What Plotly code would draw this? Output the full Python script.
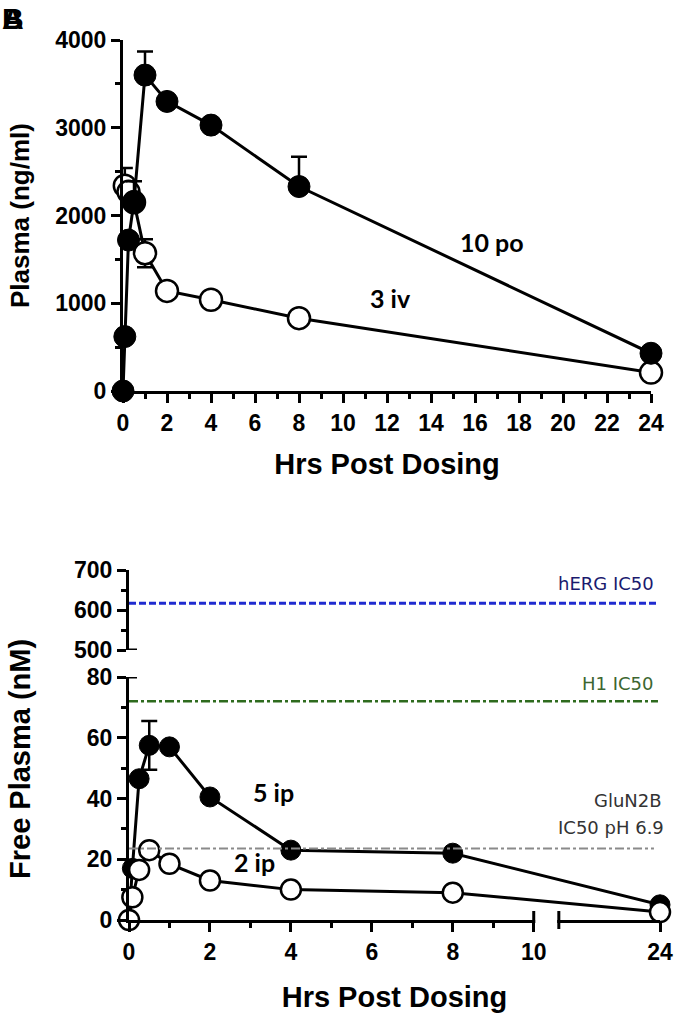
import plotly.graph_objects as go

W, H = 685, 1016

# ---------------- data ----------------
# Top panel: Plasma (ng/ml)
po_t = [0, 0.083, 0.25, 0.5, 1, 2, 4, 8, 24]
po_val = [0, 620, 1720, 2160, 3600, 3300, 3030, 2330, 430]
po_err_up = [0, 0, 0, 230, 270, 0, 0, 340, 0]

iv_t = [0.083, 0.25, 0.5, 1, 2, 4, 8, 24]
iv_val = [2340, 2270, 2150, 1570, 1140, 1040, 830, 210]
iv_err_up = [200, 0, 0, 160, 0, 0, 0, 0]
iv_err_dn = [0, 0, 0, 160, 0, 0, 0, 0]

top_xticks = list(range(0, 25, 2))
top_yticks = [0, 1000, 2000, 3000, 4000]

# Bottom panel: Free Plasma (nM)
ip5_t = [0, 0.083, 0.25, 0.5, 1, 2, 4, 8, 24]
ip5_val = [0, 17, 46.5, 57.5, 57, 40.5, 23, 22, 5]
ip5_err_up = [0, 0, 0, 8, 0, 0, 0, 0, 0]
ip5_err_dn = [0, 0, 0, 8, 0, 0, 0, 0, 0]

ip2_t = [0, 0.083, 0.25, 0.5, 1, 2, 4, 8, 24]
ip2_val = [0, 7.5, 16.5, 23, 18.5, 13, 10, 9, 2.6]

bot_xticks = [0, 2, 4, 6, 8, 10, 24]
bot_minor = [1, 3, 5, 7, 9]
low_yticks = [0, 20, 40, 60, 80]
up_yticks = [500, 600, 700]

herg_ic50 = 617
h1_ic50 = 72
glun2b_ic50 = 23.5

# broken x-axis for bottom panel: 0-10 linear, then a gap, then a short segment ending at 24
SEG_START = 21.5
GAP = 0.62


def brk(t):
    return t if t <= 10 else 10 + GAP + (t - SEG_START)


def px(x):
    return x / W


def py(y):
    return 1 - y / H


BLACK = "black"
LW = 3
MS_TOP = 22
MS_BOT = 20
tickfont = dict(family="Liberation Sans", size=23, color=BLACK, weight="bold")
titlefont = dict(family="Liberation Sans", size=29, color=BLACK, weight="bold")
ytitlefont_top = dict(family="Liberation Sans", size=26, color=BLACK, weight="bold")
labfont = dict(family="Lato", size=25, color=BLACK, weight="bold")

fig = go.Figure()

# ---- top panel traces (open first, filled on top)
fig.add_trace(go.Scatter(
    x=iv_t, y=iv_val, mode="lines+markers", xaxis="x", yaxis="y",
    line=dict(color=BLACK, width=LW),
    marker=dict(size=MS_TOP, color="white", line=dict(color=BLACK, width=2.5)),
    error_y=dict(type="data", array=iv_err_up, arrayminus=iv_err_dn, symmetric=False,
                 color=BLACK, thickness=2.5, width=8),
    cliponaxis=False, showlegend=False))
fig.add_trace(go.Scatter(
    x=po_t, y=po_val, mode="lines+markers", xaxis="x", yaxis="y",
    line=dict(color=BLACK, width=LW),
    marker=dict(size=MS_TOP, color=BLACK, line=dict(color=BLACK, width=1)),
    error_y=dict(type="data", array=po_err_up, arrayminus=[0] * len(po_t), symmetric=False,
                 color=BLACK, thickness=2.5, width=8),
    cliponaxis=False, showlegend=False))

# ---- bottom panel traces (filled first, open on top)
fig.add_trace(go.Scatter(
    x=[brk(t) for t in ip5_t], y=ip5_val, mode="lines+markers", xaxis="x2", yaxis="y2",
    line=dict(color=BLACK, width=LW),
    marker=dict(size=MS_BOT, color=BLACK, line=dict(color=BLACK, width=1)),
    error_y=dict(type="data", array=ip5_err_up, arrayminus=ip5_err_dn, symmetric=False,
                 color=BLACK, thickness=2.5, width=8),
    cliponaxis=False, showlegend=False))
fig.add_trace(go.Scatter(
    x=[brk(t) for t in ip2_t], y=ip2_val, mode="lines+markers", xaxis="x2", yaxis="y2",
    line=dict(color=BLACK, width=LW),
    marker=dict(size=MS_BOT, color="white", line=dict(color=BLACK, width=2.5)),
    cliponaxis=False, showlegend=False))
# invisible trace to create the upper (500-700) segment
fig.add_trace(go.Scatter(x=[None], y=[None], xaxis="x2", yaxis="y3", showlegend=False))

axis_common = dict(showline=True, linecolor=BLACK, linewidth=LW, ticks="outside",
                   ticklen=9, tickwidth=LW, tickcolor=BLACK, showgrid=False,
                   zeroline=False, tickfont=tickfont, automargin=False)

fig.update_layout(
    width=W, height=H, margin=dict(l=0, r=0, t=0, b=0),
    paper_bgcolor="white", plot_bgcolor="rgba(0,0,0,0)",
    xaxis=dict(domain=[px(123), px(651)], range=[0, 24], anchor="y",
               tickmode="array", tickvals=top_xticks,
               minor=dict(dtick=1, tick0=0, ticks="outside", ticklen=5, tickwidth=LW,
                          tickcolor=BLACK, showgrid=False),
               title=dict(text="Hrs Post Dosing", font=titlefont, standoff=20),
               **axis_common),
    yaxis=dict(domain=[py(391), py(40)], range=[0, 4000], anchor="x",
               tickmode="array", tickvals=top_yticks,
               minor=dict(dtick=500, tick0=0, ticks="outside", ticklen=5, tickwidth=LW,
                          tickcolor=BLACK, showgrid=False),
               **axis_common),
    xaxis2=dict(domain=[px(129), px(660)], range=[0, brk(24)], anchor="y2",
                tickmode="array", tickvals=[brk(t) for t in bot_xticks],
                ticktext=[str(t) for t in bot_xticks],
                minor=dict(tickmode="array", tickvals=bot_minor, ticks="outside", ticklen=5,
                           tickwidth=LW, tickcolor=BLACK, showgrid=False),
                title=dict(text="Hrs Post Dosing", font=titlefont, standoff=24),
                **axis_common),
    yaxis2=dict(domain=[py(920), py(677)], range=[0, 80], anchor="x2",
                tickmode="array", tickvals=low_yticks,
                minor=dict(dtick=10, tick0=0, ticks="outside", ticklen=5, tickwidth=LW,
                           tickcolor=BLACK, showgrid=False),
                **axis_common),
    yaxis3=dict(domain=[py(650), py(570)], range=[500, 700], anchor="x2",
                tickmode="array", tickvals=up_yticks,
                minor=dict(dtick=50, tick0=500, ticks="outside", ticklen=5, tickwidth=LW,
                           tickcolor=BLACK, showgrid=False),
                **axis_common),
)

shapes = []
# reference lines
shapes.append(dict(type="line", xref="x2", yref="y3", x0=0, x1=brk(24) - 0.05,
                   y0=herg_ic50, y1=herg_ic50, line=dict(color="#1f2bd0", width=3, dash="7px,3px")))
shapes.append(dict(type="line", xref="x2", yref="y2", x0=0, x1=brk(24) - 0.05,
                   y0=h1_ic50, y1=h1_ic50,
                   line=dict(color="#2e6b1e", width=2.5, dash="9px,3px,3px,3px")))
shapes.append(dict(type="line", xref="x2", yref="y2", x0=0, x1=brk(24) - 0.15,
                   y0=glun2b_ic50, y1=glun2b_ic50,
                   line=dict(color="#8a8a8a", width=2, dash="9px,3px,3px,3px")))
# x-axis break: white out gap, add end caps
shapes.append(dict(type="rect", xref="x2", yref="paper", x0=10.04, x1=10 + GAP - 0.04,
                   y0=py(925), y1=py(915), fillcolor="white", line=dict(width=0), layer="above"))
shapes.append(dict(type="line", xref="x2", yref="paper", x0=10, x1=10, y0=py(920), y1=py(911),
                   line=dict(color=BLACK, width=LW)))
shapes.append(dict(type="line", xref="x2", yref="paper", x0=10 + GAP, x1=10 + GAP,
                   y0=py(929), y1=py(911), line=dict(color=BLACK, width=LW)))
# y-axis break caps
shapes.append(dict(type="line", xref="paper", yref="y3", x0=px(129), x1=px(137),
                   y0=500, y1=500, line=dict(color=BLACK, width=LW)))
shapes.append(dict(type="line", xref="paper", yref="y2", x0=px(129), x1=px(137),
                   y0=80, y1=80, line=dict(color=BLACK, width=LW)))
fig.update_layout(shapes=shapes)

ann = []
# axis titles (y)
ann.append(dict(text="Plasma (ng/ml)", xref="paper", yref="paper", x=px(20), y=py(216),
                textangle=-90, showarrow=False, font=ytitlefont_top, xanchor="center", yanchor="middle"))
ann.append(dict(text="Free Plasma (nM)", xref="paper", yref="paper", x=px(20), y=py(759),
                textangle=-90, showarrow=False, font=titlefont, xanchor="center", yanchor="middle"))
# series labels
for txt, x, y in [("10 po", 492, 242), ("3 iv", 390, 298), ("5 ip", 273, 792), ("2 ip", 254, 862)]:
    ann.append(dict(text=txt, xref="paper", yref="paper", x=px(x), y=py(y), showarrow=False,
                    font=labfont, xanchor="center", yanchor="middle"))
# reference line labels
reffont = dict(family="DejaVu Sans", size=18)
ann.append(dict(text="hERG IC50", xref="paper", yref="paper", x=px(656), y=py(583), showarrow=False,
                font=dict(color="#1a1a6e", **reffont), xanchor="right", yanchor="middle"))
ann.append(dict(text="H1 IC50", xref="paper", yref="paper", x=px(656), y=py(683), showarrow=False,
                font=dict(color="#3d6630", **reffont), xanchor="right", yanchor="middle"))
ann.append(dict(text="GluN2B", xref="paper", yref="paper", x=px(664), y=py(800), showarrow=False,
                font=dict(color="#333333", **reffont), xanchor="right", yanchor="middle"))
ann.append(dict(text="IC50 pH 6.9", xref="paper", yref="paper", x=px(666), y=py(827), showarrow=False,
                font=dict(color="#333333", **reffont), xanchor="right", yanchor="middle"))
# panel letters (overlapping)
for letter in ["A", "B"]:
    ann.append(dict(text=letter, xref="paper", yref="paper", x=0, y=1, showarrow=False,
                    font=dict(family="Liberation Sans", size=30, color=BLACK, weight="bold"),
                    xanchor="left", yanchor="top"))
fig.update_layout(annotations=ann)

fig.write_html("out.html", config={"displayModeBar": False},
               post_script="document.body.style.margin='0px';")
